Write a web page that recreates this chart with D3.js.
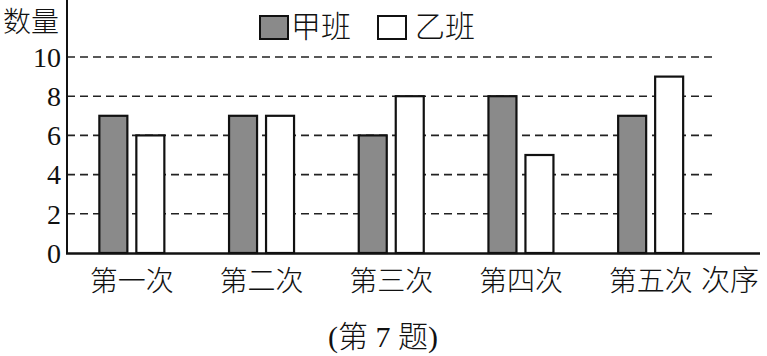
<!DOCTYPE html>
<html>
<head>
<meta charset="utf-8">
<script src="https://cdn.jsdelivr.net/npm/d3@7/dist/d3.min.js"></script>
<style>
  html, body { margin: 0; padding: 0; background: #fff; }
  svg { display: block; }
</style>
</head>
<body>
<svg id="chart" width="767" height="356"></svg>
<script>
const categories = ["第一次", "第二次", "第三次", "第四次", "第五次"];
const seriesNames = ["甲班", "乙班"];
const jiaValues = [7, 7, 6, 8, 7];
const yiValues = [6, 7, 8, 5, 9];
const yTicks = [0, 2, 4, 6, 8, 10];
const gridTicks = [2, 4, 6, 8, 10];
const yAxisTitle = "数量";
const xAxisTitle = "次序";
const caption = "(第 7 题)";

const SERIF = "'Liberation Serif', serif";
const CJK = "'Liberation Serif', 'Noto Sans CJK SC', serif";
const fills = { "甲班": "#8a8a8a", "乙班": "#ffffff" };
const svg = d3.select("#chart");

const y = d3.scaleLinear().domain([0, 10]).range([253, 57]);
const x = d3.scaleBand().domain(categories).range([67, 715.5]).padding(0);
const x1 = d3.scaleBand().domain(seriesNames).range([-32.5, 32.5]).paddingInner(0.243);

function cjkText(sel, size) {
  return sel.style("font-family", CJK).style("font-weight", "300")
    .style("font-size", size + "px").style("fill", "#111");
}

// gridlines
svg.append("g").selectAll("line").data(gridTicks).join("line")
  .attr("x1", 67).attr("x2", 717)
  .attr("y1", d => y(d)).attr("y2", d => y(d))
  .attr("stroke", "#222").attr("stroke-width", 1.6)
  .attr("stroke-dasharray", "8,5");

// bars
const rows = categories.map((c, i) => ({ c, vals: [jiaValues[i], yiValues[i]] }));
const groups = svg.append("g").selectAll("g").data(rows).join("g")
  .attr("transform", d => `translate(${x(d.c) + x.bandwidth() / 2},0)`);
groups.selectAll("rect").data(d => d.vals.map((v, k) => ({ s: seriesNames[k], v })))
  .join("rect")
  .attr("x", d => x1(d.s))
  .attr("width", x1.bandwidth())
  .attr("y", d => y(d.v))
  .attr("height", d => y(0) - y(d.v))
  .attr("fill", d => fills[d.s])
  .attr("stroke", "#111").attr("stroke-width", 2.2);

// y axis
const yAxis = svg.append("g").attr("transform", "translate(67,0)")
  .call(d3.axisLeft(y).tickValues(yTicks).tickSize(0).tickPadding(6));
yAxis.select(".domain").remove();
yAxis.selectAll("text").attr("dy", "0.33em")
  .style("font-family", SERIF).style("font-size", "28px").style("fill", "#111");
svg.append("line").attr("x1", 67).attr("x2", 67).attr("y1", 0).attr("y2", 254)
  .attr("stroke", "#111").attr("stroke-width", 2);

// x axis
svg.append("line").attr("x1", 66).attr("x2", 760).attr("y1", 253.5).attr("y2", 253.5)
  .attr("stroke", "#111").attr("stroke-width", 2.5);
const xAxis = svg.append("g").attr("transform", "translate(0,253)")
  .call(d3.axisBottom(x).tickSize(0).tickPadding(0));
xAxis.select(".domain").remove();
cjkText(xAxis.selectAll("text").attr("dy", 0).attr("y", 38), 28);

// axis titles
cjkText(svg.append("text").attr("x", 3).attr("y", 32).text(yAxisTitle), 28);
cjkText(svg.append("text").attr("x", 701).attr("y", 291).text(xAxisTitle), 29);

// legend
const legend = [
  { name: seriesNames[0], rx: 260, tx: 291 },
  { name: seriesNames[1], rx: 378, tx: 415 }
];
const lg = svg.append("g").selectAll("g").data(legend).join("g");
lg.append("rect").attr("x", d => d.rx).attr("y", 16).attr("width", 28).attr("height", 23)
  .attr("fill", d => fills[d.name]).attr("stroke", "#111").attr("stroke-width", 2);
cjkText(lg.append("text").attr("x", d => d.tx).attr("y", 37).text(d => d.name), 30);

// caption
cjkText(svg.append("text").attr("x", 383).attr("y", 347).attr("text-anchor", "middle").text(caption), 30);
</script>
</body>
</html>
